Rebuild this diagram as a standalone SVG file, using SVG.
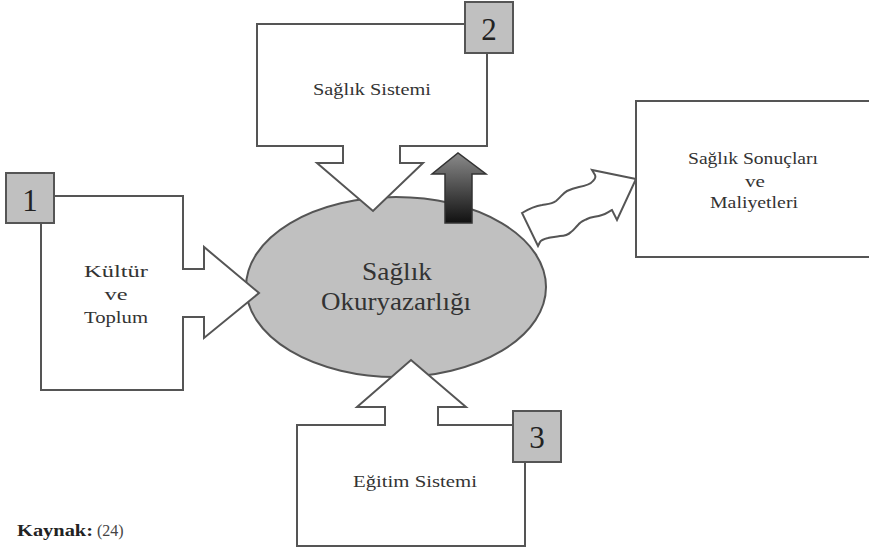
<svg xmlns="http://www.w3.org/2000/svg" width="869" height="552" viewBox="0 0 869 552">
<defs>
<linearGradient id="dark" x1="0" y1="0" x2="0" y2="1">
<stop offset="0" stop-color="#8a8a8a"/>
<stop offset="1" stop-color="#111"/>
</linearGradient>
<style>
.shape{fill:#fff;stroke:#555;stroke-width:2;stroke-linejoin:miter}
.num{fill:#c0c0c0;stroke:#555;stroke-width:2}
.t{font-family:"Liberation Serif","Times New Roman",serif;font-size:17px;fill:#333;text-anchor:middle}
.big{font-size:26px}
.d{font-family:"Liberation Serif","Times New Roman",serif;font-size:31px;fill:#222;text-anchor:middle}
</style>
</defs>
<rect width="869" height="552" fill="#fff"/>

<g id="center">
<ellipse cx="396" cy="287" rx="150" ry="90" fill="#c0c0c0" stroke="#555" stroke-width="2"/>
<text class="t big" x="397" y="280" textLength="70" lengthAdjust="spacingAndGlyphs">Sağlık</text>
<text class="t big" x="396" y="310" textLength="150" lengthAdjust="spacingAndGlyphs">Okuryazarlığı</text>
</g>

<g id="connectors">
<path id="up-arrow" d="M445,223 V174 H432 L458,153 L486,174 H472 V223 Z" fill="url(#dark)" stroke="#333" stroke-width="1.5"/>
<path id="wavy-arrow" class="shape" d="M522,213 C527,210 535,206 542,205 C548,204 552,204 556,201 C561,197 563,193 567,191 C571,189 574,188 579,187 C585,186 590,185 593,181 C595,179 596,177 595,175 L592,170 L636,179 L617,220 L612,210 C608,212 606,214 602,215 C596,217 591,217 587,219 C583,221 580,222 578,225 C575,228 574,230 571,232 C568,235 565,236 560,236 C555,237 551,237 548,238 C544,239 541,240 540,242 L538,246 Z"/>
</g>

<g id="kultur">
<path class="shape" d="M54,196 H183 V269 H204 V247 L259,293 L204,338 V317 H183 V390 H41 V223"/>
<rect class="num" x="6" y="173" width="48" height="50"/>
<text class="d" x="30" y="211">1</text>
<text class="t" x="116" y="277" textLength="64" lengthAdjust="spacingAndGlyphs">Kültür</text>
<text class="t" x="116" y="300" textLength="23" lengthAdjust="spacingAndGlyphs">ve</text>
<text class="t" x="116" y="323" textLength="64" lengthAdjust="spacingAndGlyphs">Toplum</text>
</g>

<g id="saglik-sistemi">
<path class="shape" d="M465,24 H257 V146 H343 V163 H317 L373,211 L423,163 H400 V146 H487 V53"/>
<rect class="num" x="465" y="2" width="48" height="51"/>
<text class="d" x="489" y="40">2</text>
<text class="t" x="372" y="95" textLength="118" lengthAdjust="spacingAndGlyphs">Sağlık Sistemi</text>
</g>

<g id="egitim-sistemi">
<path class="shape" d="M513,425 H438 V407 H466 L411,360 L357,407 H385 V425 H297 V546 H525 V462"/>
<rect class="num" x="513" y="411" width="48" height="51"/>
<text class="d" x="537" y="448">3</text>
<text class="t" x="415" y="487" textLength="124" lengthAdjust="spacingAndGlyphs">Eğitim Sistemi</text>
</g>

<g id="sonuclar">
<rect class="shape" x="636" y="101" width="240" height="156"/>
<text class="t" x="753" y="164" textLength="130" lengthAdjust="spacingAndGlyphs">Sağlık Sonuçları</text>
<text class="t" x="755" y="187" textLength="20" lengthAdjust="spacingAndGlyphs">ve</text>
<text class="t" x="754" y="208" textLength="88" lengthAdjust="spacingAndGlyphs">Maliyetleri</text>
</g>

<g id="kaynak">
<text x="17" y="536" font-family="'Liberation Serif','Times New Roman',serif" font-size="16" fill="#222"><tspan font-weight="bold" textLength="76" lengthAdjust="spacingAndGlyphs">Kaynak:</tspan><tspan fill="#444"> (24)</tspan></text>
</g>
</svg>
